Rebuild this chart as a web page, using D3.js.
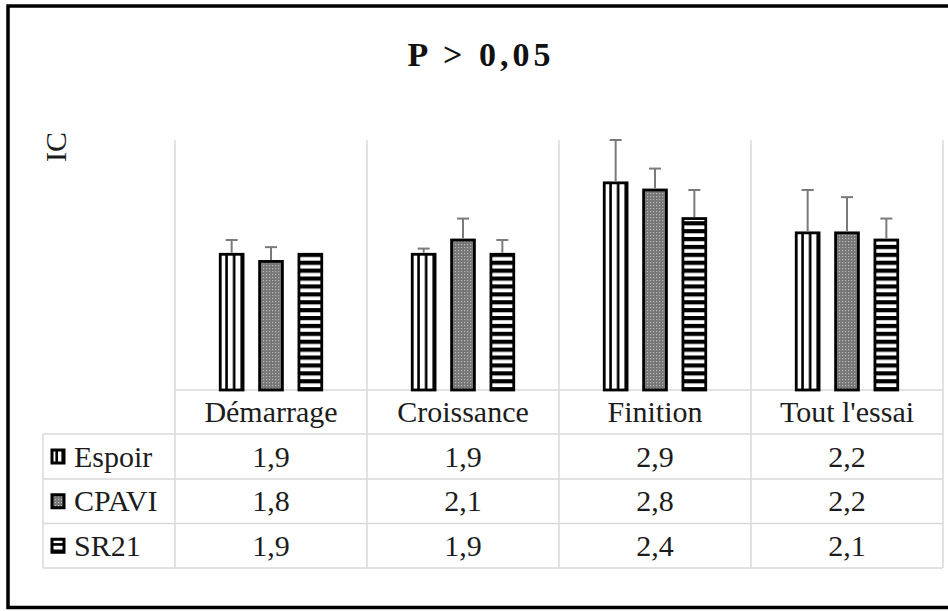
<!DOCTYPE html>
<html>
<head>
<meta charset="utf-8">
<script src="https://cdn.jsdelivr.net/npm/d3@7"></script>
<style>
  body { margin: 0; background: #fff; }
  text { font-family: 'Liberation Serif', 'Times New Roman', Times, 'DejaVu Serif', serif; }
</style>
</head>
<body>
<div id="chart"></div>
<script>
// data
const categories = ["Démarrage", "Croissance", "Finition", "Tout l'essai"];
const seriesNames = ["Espoir", "CPAVI", "SR21"];
const espoir = [1.9, 1.9, 2.9, 2.2];
const cpavi = [1.8, 2.1, 2.8, 2.2];
const sr21 = [1.9, 1.9, 2.4, 2.1];
const espoirErr = [0.2, 0.08, 0.6, 0.6];
const cpaviErr = [0.2, 0.3, 0.3, 0.5];
const sr21Err = [0, 0.2, 0.4, 0.3];
const yDomain = [0, 3.5];

const seriesValues = [espoir, cpavi, sr21];
const seriesErrors = [espoirErr, cpaviErr, sr21Err];
const patternIds = ["pat-espoir", "pat-cpavi", "pat-sr21"];
const keyIds = ["key-espoir", "pat-cpavi", "key-sr21"];

const width = 948, height = 611;
const plot = { left: 175, right: 943, top: 140, bottom: 390 };
const rowLines = [390, 434, 479, 523.5, 568];
const tableLeft = 43;
const serif = "'Liberation Serif', 'Times New Roman', Times, serif";
const textColor = "#1c1c1c";

const fmt = d => d3.format(".1f")(d).replace(".", ",");

const svg = d3.select("#chart").append("svg")
  .attr("width", width)
  .attr("height", height)
  .style("display", "block");

const x0 = d3.scaleBand().domain(categories).range([plot.left, plot.right]);
const x1 = d3.scaleBand().domain(seriesNames).range([0, x0.bandwidth()])
  .paddingInner(0.42).paddingOuter(1.15);
const y = d3.scaleLinear().domain(yDomain).range([plot.bottom, plot.top]);

const bw = x1.bandwidth();

// patterns
const defs = svg.append("defs");

const pe = defs.append("pattern").attr("id", "pat-espoir")
  .attr("patternUnits", "objectBoundingBox")
  .attr("x", 0).attr("y", 0).attr("width", 1 / 3).attr("height", 1);
pe.append("rect").attr("width", 100).attr("height", 1000).attr("fill", "#fff");
pe.append("rect").attr("x", bw / 3 - 2.6).attr("width", 2.6).attr("height", 1000).attr("fill", "#000");

const pc = defs.append("pattern").attr("id", "pat-cpavi")
  .attr("patternUnits", "userSpaceOnUse").attr("width", 3).attr("height", 3);
pc.append("rect").attr("width", 3).attr("height", 3).attr("fill", "#767676");
pc.append("rect").attr("x", 1).attr("y", 1).attr("width", 1.2).attr("height", 1.2).attr("fill", "#b8b8b8");

const ps = defs.append("pattern").attr("id", "pat-sr21")
  .attr("patternUnits", "userSpaceOnUse").attr("width", 8).attr("height", 7.9);
ps.append("rect").attr("width", 8).attr("height", 7.9).attr("fill", "#fff");
ps.append("rect").attr("width", 8).attr("height", 4.2).attr("fill", "#000");

const ke = defs.append("pattern").attr("id", "key-espoir")
  .attr("patternUnits", "objectBoundingBox")
  .attr("x", 0).attr("y", 0).attr("width", 0.5).attr("height", 1);
ke.append("rect").attr("width", 100).attr("height", 100).attr("fill", "#fff");
ke.append("rect").attr("x", 3.4).attr("width", 3.2).attr("height", 100).attr("fill", "#000");

const ks = defs.append("pattern").attr("id", "key-sr21")
  .attr("patternUnits", "objectBoundingBox")
  .attr("x", 0).attr("y", 0).attr("width", 1).attr("height", 0.5);
ks.append("rect").attr("width", 100).attr("height", 100).attr("fill", "#fff");
ks.append("rect").attr("y", 3.8).attr("width", 100).attr("height", 3.2).attr("fill", "#000");

// outer frame (right edge runs off the picture)
svg.append("rect")
  .attr("x", 8).attr("y", 6)
  .attr("width", 960).attr("height", 601.5)
  .attr("fill", "none").attr("stroke", "#000").attr("stroke-width", 3.5);

// title
svg.append("text")
  .attr("x", 481).attr("y", 66)
  .attr("text-anchor", "middle")
  .attr("font-family", serif)
  .attr("font-size", 34).attr("font-weight", "bold")
  .attr("letter-spacing", 4)
  .attr("fill", "#111")
  .text("P > 0,05");

// y title
svg.append("text")
  .attr("transform", "translate(66,147) rotate(-90)")
  .attr("text-anchor", "middle")
  .attr("font-family", serif)
  .attr("font-size", 30).attr("fill", textColor)
  .text("IC");

// grid
const grid = svg.append("g").attr("stroke", "#d9d9d9").attr("stroke-width", 1.5);
const bounds = categories.map(c => x0(c)).concat([plot.right]);
grid.selectAll("line.v").data(bounds).enter().append("line")
  .attr("x1", d => d).attr("x2", d => d)
  .attr("y1", plot.top).attr("y2", rowLines[rowLines.length - 1]);
grid.append("line")
  .attr("x1", tableLeft).attr("x2", tableLeft)
  .attr("y1", rowLines[1]).attr("y2", rowLines[rowLines.length - 1]);
grid.selectAll("line.h").data(rowLines).enter().append("line")
  .attr("x1", (d, i) => i === 0 ? plot.left : tableLeft).attr("x2", plot.right)
  .attr("y1", d => d).attr("y2", d => d);

// bars
const groups = svg.append("g").selectAll("g")
  .data(categories).enter().append("g")
  .attr("transform", d => `translate(${x0(d)},0)`);

groups.selectAll("rect")
  .data((c, ci) => seriesNames.map((s, si) => ({ s, si, v: seriesValues[si][ci] })))
  .enter().append("rect")
  .attr("x", d => x1(d.s))
  .attr("y", d => y(d.v))
  .attr("width", bw)
  .attr("height", d => y(0) - y(d.v))
  .attr("fill", d => `url(#${patternIds[d.si]})`)
  .attr("stroke", "#000")
  .attr("stroke-width", 2.8);

// error bars
const errs = groups.selectAll("g.err")
  .data((c, ci) => seriesNames.map((s, si) => ({ s, v: seriesValues[si][ci], e: seriesErrors[si][ci] })).filter(d => d.e > 0))
  .enter().append("g")
  .attr("stroke", "#7a7a7a").attr("stroke-width", 2);
errs.append("line")
  .attr("x1", d => x1(d.s) + bw / 2).attr("x2", d => x1(d.s) + bw / 2)
  .attr("y1", d => y(d.v) - 1.5).attr("y2", d => y(d.v + d.e));
errs.append("line")
  .attr("x1", d => x1(d.s) + bw / 2 - 6).attr("x2", d => x1(d.s) + bw / 2 + 6)
  .attr("y1", d => y(d.v + d.e)).attr("y2", d => y(d.v + d.e));

// table header
svg.append("g").selectAll("text")
  .data(categories).enter().append("text")
  .attr("x", d => x0(d) + x0.bandwidth() / 2)
  .attr("y", 422)
  .attr("text-anchor", "middle")
  .attr("font-family", serif)
  .attr("font-size", 30).attr("fill", textColor)
  .text(d => d);

// table rows
const rows = svg.append("g").selectAll("g")
  .data(seriesNames).enter().append("g");

rows.append("rect")
  .attr("x", 52)
  .attr("y", (d, i) => (rowLines[i + 1] + rowLines[i + 2]) / 2 - 6.5)
  .attr("width", 12).attr("height", 13)
  .attr("fill", (d, i) => `url(#${keyIds[i]})`)
  .attr("stroke", "#000").attr("stroke-width", 3);

rows.append("text")
  .attr("x", 74)
  .attr("y", (d, i) => rowLines[i + 2] - 12.5)
  .attr("font-family", serif)
  .attr("font-size", 30).attr("fill", textColor)
  .text(d => d);

rows.selectAll("text.val")
  .data((s, si) => categories.map((c, ci) => ({ c, si, v: seriesValues[si][ci] })))
  .enter().append("text")
  .attr("class", "val")
  .attr("x", d => x0(d.c) + x0.bandwidth() / 2)
  .attr("y", d => rowLines[d.si + 2] - 12.5)
  .attr("text-anchor", "middle")
  .attr("font-family", serif)
  .attr("font-size", 30).attr("fill", textColor)
  .text(d => fmt(d.v));
</script>
</body>
</html>
